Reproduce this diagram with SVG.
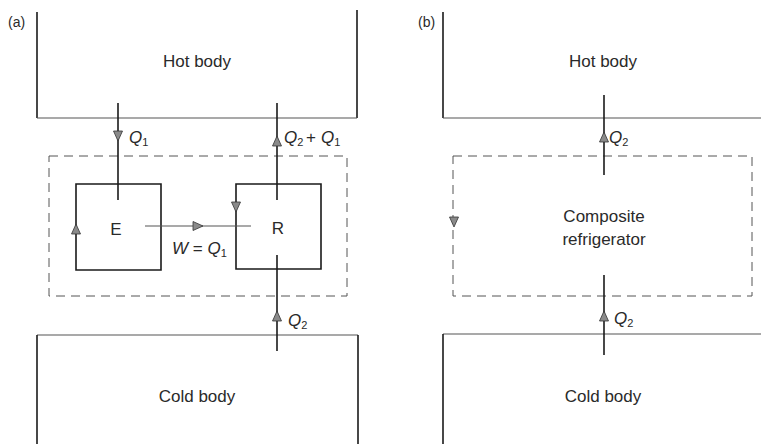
<svg xmlns="http://www.w3.org/2000/svg" width="761" height="444" viewBox="0 0 761 444">
<defs>
<style>
.t{font-family:"Liberation Sans",Arial,sans-serif;fill:#2a2a2a;font-size:17px}
.q{font-family:"Liberation Sans",Arial,sans-serif;fill:#2a2a2a;font-size:17px;font-style:italic}
.s{font-size:11px;font-style:normal}
.w{stroke:#1a1a1a;stroke-width:1.6;fill:none}
.g{stroke:#555;stroke-width:1.2;fill:none}
.d{stroke:#555;stroke-width:1;fill:none;stroke-dasharray:9 6}
.ah{fill:#8a8a8a;stroke:#333;stroke-width:0.8}
</style>
<path id="up" class="ah" d="M0,0 L4.5,10 L-4.5,10 Z"/>
</defs>
<text class="t" x="8" y="27" style="font-size:14px">(a)</text>
<text class="t" x="418" y="27" style="font-size:14px">(b)</text>
<g id="hot-a">
<path class="w" d="M37,12 V118"/><path class="w" d="M357,10 V118"/>
<path class="g" d="M37,118 H357"/>
<text class="t" x="197" y="67" text-anchor="middle">Hot body</text>
</g>
<g id="cold-a">
<path class="g" d="M37,335 H358"/>
<path class="w" d="M37,335 V444"/><path class="w" d="M358,335 V444"/>
<text class="t" x="197" y="402" text-anchor="middle">Cold body</text>
</g>
<g id="boundary-a"><rect class="d" x="49" y="156" width="298" height="140"/></g>
<g id="E">
<path class="w" d="M76,184 H161 V270 H76 Z"/>
<text class="t" x="116" y="235" text-anchor="middle">E</text>
</g>
<g id="R">
<path class="w" d="M236,184 H321 V269 H236 Z"/>
<text class="t" x="278" y="234" text-anchor="middle">R</text>
</g>
<g id="hot-b">
<path class="w" d="M443,12 V118"/>
<path class="g" d="M443,118 H761"/>
<text class="t" x="603" y="67" text-anchor="middle">Hot body</text>
</g>
<g id="composite">
<rect class="d" x="453" y="156" width="299" height="140"/>
<text class="t" x="604" y="222" text-anchor="middle">Composite</text>
<text class="t" x="604" y="245" text-anchor="middle">refrigerator</text>
</g>
<g id="cold-b">
<path class="g" d="M443,334 H761"/>
<path class="w" d="M443,334 V444"/>
<text class="t" x="603" y="402" text-anchor="middle">Cold body</text>
</g>
<g id="connectors">
<path class="w" d="M118,103 V200"/>
<use href="#up" transform="translate(118,141) rotate(180)"/>
<path class="w" d="M277,103 V200"/>
<use href="#up" transform="translate(277,136)"/>
<path class="w" d="M277,255 V351"/>
<use href="#up" transform="translate(277,311)"/>
<use href="#up" transform="translate(76,224)"/>
<use href="#up" transform="translate(236,212) rotate(180)"/>
<path class="g" d="M145,226 H251"/>
<use href="#up" transform="translate(203,226) rotate(90)"/>
<path class="w" d="M604,95 V175"/>
<use href="#up" transform="translate(604,132)"/>
<path class="w" d="M604,275 V355"/>
<use href="#up" transform="translate(604,311)"/>
<use href="#up" transform="translate(454,227) rotate(180)"/>
</g>
<g id="labels">
<text class="q" x="129" y="143">Q<tspan class="s" dy="3">1</tspan></text>
<text class="q" x="284" y="143">Q<tspan class="s" dy="3">2</tspan></text>
<text class="q" x="306" y="143" style="font-style:normal">+</text>
<text class="q" x="321" y="143">Q<tspan class="s" dy="3">1</tspan></text>
<text class="q" x="288" y="326">Q<tspan class="s" dy="3">2</tspan></text>
<text class="q" x="172" y="254">W<tspan style="font-style:normal"> = </tspan>Q<tspan class="s" dy="3">1</tspan></text>
<text class="q" x="609" y="143">Q<tspan class="s" dy="3">2</tspan></text>
<text class="q" x="614" y="324">Q<tspan class="s" dy="3">2</tspan></text>
</g>
</svg>
